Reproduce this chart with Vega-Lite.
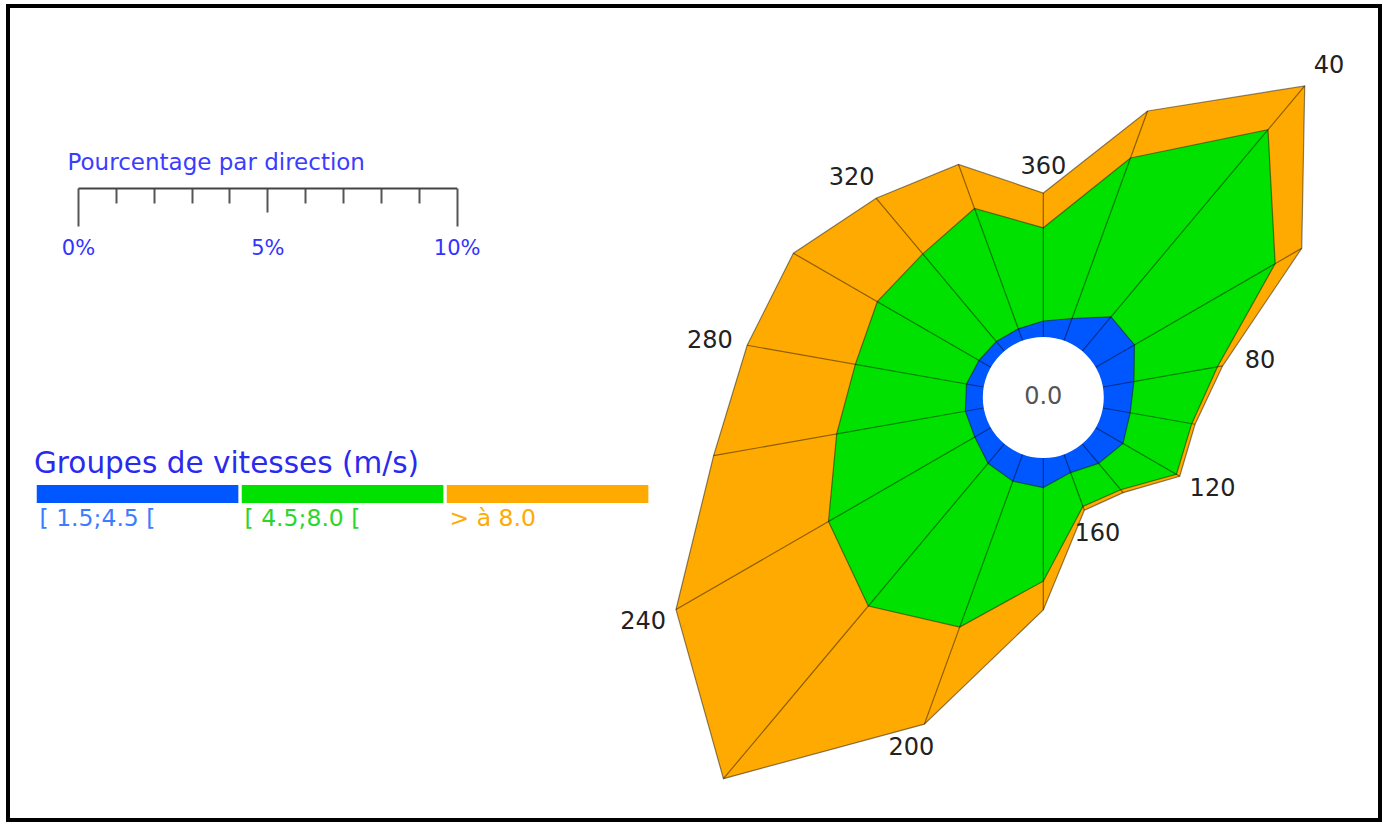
{
  "$schema": "https://vega.github.io/schema/vega-lite/v6.json",
  "width": 1372,
  "height": 814,
  "autosize": {"type": "none"},
  "padding": {"left": 8, "top": 6, "right": 6, "bottom": 2},
  "background": "white",
  "config": {"view": {"stroke": "#000", "strokeWidth": 4}, "font": "DejaVu Sans"},
  "datasets": {
    "rose": [
      {"direction": 0, "vitesse": "calme", "vmin": 0, "pourcentage": 0.0},
      {"direction": 20, "vitesse": "[ 1.5;4.5 [", "vmin": 1.5, "pourcentage": 0.62},
      {"direction": 20, "vitesse": "[ 4.5;8.0 [", "vmin": 4.5, "pourcentage": 4.51},
      {"direction": 20, "vitesse": "> à 8.0", "vmin": 8, "pourcentage": 1.32},
      {"direction": 40, "vitesse": "[ 1.5;4.5 [", "vmin": 1.5, "pourcentage": 1.18},
      {"direction": 40, "vitesse": "[ 4.5;8.0 [", "vmin": 4.5, "pourcentage": 6.45},
      {"direction": 40, "vitesse": "> à 8.0", "vmin": 8, "pourcentage": 1.51},
      {"direction": 60, "vitesse": "[ 1.5;4.5 [", "vmin": 1.5, "pourcentage": 1.18},
      {"direction": 60, "vitesse": "[ 4.5;8.0 [", "vmin": 4.5, "pourcentage": 4.29},
      {"direction": 60, "vitesse": "> à 8.0", "vmin": 8, "pourcentage": 0.81},
      {"direction": 80, "vitesse": "[ 1.5;4.5 [", "vmin": 1.5, "pourcentage": 0.83},
      {"direction": 80, "vitesse": "[ 4.5;8.0 [", "vmin": 4.5, "pourcentage": 2.24},
      {"direction": 80, "vitesse": "> à 8.0", "vmin": 8, "pourcentage": 0.14},
      {"direction": 100, "vitesse": "[ 1.5;4.5 [", "vmin": 1.5, "pourcentage": 0.73},
      {"direction": 100, "vitesse": "[ 4.5;8.0 [", "vmin": 4.5, "pourcentage": 1.65},
      {"direction": 100, "vitesse": "> à 8.0", "vmin": 8, "pourcentage": 0.09},
      {"direction": 120, "vitesse": "[ 1.5;4.5 [", "vmin": 1.5, "pourcentage": 0.83},
      {"direction": 120, "vitesse": "[ 4.5;8.0 [", "vmin": 4.5, "pourcentage": 1.63},
      {"direction": 120, "vitesse": "> à 8.0", "vmin": 8, "pourcentage": 0.10},
      {"direction": 140, "vitesse": "[ 1.5;4.5 [", "vmin": 1.5, "pourcentage": 0.67},
      {"direction": 140, "vitesse": "[ 4.5;8.0 [", "vmin": 4.5, "pourcentage": 0.91},
      {"direction": 140, "vitesse": "> à 8.0", "vmin": 8, "pourcentage": 0.10},
      {"direction": 160, "vitesse": "[ 1.5;4.5 [", "vmin": 1.5, "pourcentage": 0.51},
      {"direction": 160, "vitesse": "[ 4.5;8.0 [", "vmin": 4.5, "pourcentage": 0.95},
      {"direction": 160, "vitesse": "> à 8.0", "vmin": 8, "pourcentage": 0.11},
      {"direction": 180, "vitesse": "[ 1.5;4.5 [", "vmin": 1.5, "pourcentage": 0.78},
      {"direction": 180, "vitesse": "[ 4.5;8.0 [", "vmin": 4.5, "pourcentage": 2.47},
      {"direction": 180, "vitesse": "> à 8.0", "vmin": 8, "pourcentage": 0.76},
      {"direction": 200, "vitesse": "[ 1.5;4.5 [", "vmin": 1.5, "pourcentage": 0.75},
      {"direction": 200, "vitesse": "[ 4.5;8.0 [", "vmin": 4.5, "pourcentage": 4.10},
      {"direction": 200, "vitesse": "> à 8.0", "vmin": 8, "pourcentage": 2.73},
      {"direction": 220, "vitesse": "[ 1.5;4.5 [", "vmin": 1.5, "pourcentage": 0.67},
      {"direction": 220, "vitesse": "[ 4.5;8.0 [", "vmin": 4.5, "pourcentage": 4.92},
      {"direction": 220, "vitesse": "> à 8.0", "vmin": 8, "pourcentage": 5.95},
      {"direction": 240, "vitesse": "[ 1.5;4.5 [", "vmin": 1.5, "pourcentage": 0.49},
      {"direction": 240, "vitesse": "[ 4.5;8.0 [", "vmin": 4.5, "pourcentage": 4.46},
      {"direction": 240, "vitesse": "> à 8.0", "vmin": 8, "pourcentage": 4.65},
      {"direction": 260, "vitesse": "[ 1.5;4.5 [", "vmin": 1.5, "pourcentage": 0.49},
      {"direction": 260, "vitesse": "[ 4.5;8.0 [", "vmin": 4.5, "pourcentage": 3.45},
      {"direction": 260, "vitesse": "> à 8.0", "vmin": 8, "pourcentage": 3.30},
      {"direction": 280, "vitesse": "[ 1.5;4.5 [", "vmin": 1.5, "pourcentage": 0.46},
      {"direction": 280, "vitesse": "[ 4.5;8.0 [", "vmin": 4.5, "pourcentage": 2.98},
      {"direction": 280, "vitesse": "> à 8.0", "vmin": 8, "pourcentage": 2.90},
      {"direction": 300, "vitesse": "[ 1.5;4.5 [", "vmin": 1.5, "pourcentage": 0.36},
      {"direction": 300, "vitesse": "[ 4.5;8.0 [", "vmin": 4.5, "pourcentage": 3.10},
      {"direction": 300, "vitesse": "> à 8.0", "vmin": 8, "pourcentage": 2.56},
      {"direction": 320, "vitesse": "[ 1.5;4.5 [", "vmin": 1.5, "pourcentage": 0.33},
      {"direction": 320, "vitesse": "[ 4.5;8.0 [", "vmin": 4.5, "pourcentage": 3.02},
      {"direction": 320, "vitesse": "> à 8.0", "vmin": 8, "pourcentage": 1.92},
      {"direction": 340, "vitesse": "[ 1.5;4.5 [", "vmin": 1.5, "pourcentage": 0.33},
      {"direction": 340, "vitesse": "[ 4.5;8.0 [", "vmin": 4.5, "pourcentage": 3.38},
      {"direction": 340, "vitesse": "> à 8.0", "vmin": 8, "pourcentage": 1.24},
      {"direction": 360, "vitesse": "[ 1.5;4.5 [", "vmin": 1.5, "pourcentage": 0.42},
      {"direction": 360, "vitesse": "[ 4.5;8.0 [", "vmin": 4.5, "pourcentage": 2.46},
      {"direction": 360, "vitesse": "> à 8.0", "vmin": 8, "pourcentage": 0.92}
    ],
    "echelle": [{"pourcentage": 0}, {"pourcentage": 10}]
  },
  "layer": [
    {
      "data": {"name": "rose"},
      "transform": [
        {"window": [{"op": "sum", "field": "pourcentage", "as": "cumul"}], "groupby": ["direction"], "sort": [{"field": "vmin", "order": "ascending"}], "frame": [null, 0]},
        {"calculate": "datum.vmin == 0 ? 0 : 1.6 + datum.cumul", "as": "rayon"},
        {"calculate": "datum.rayon * sin(datum.direction * PI / 180)", "as": "px"},
        {"calculate": "datum.rayon * cos(datum.direction * PI / 180)", "as": "py"}
      ],
      "encoding": {
        "x": {"field": "px", "type": "quantitative", "scale": {"domain": [-27.338, 8.891], "nice": false, "zero": false}, "axis": null},
        "y": {"field": "py", "type": "quantitative", "scale": {"domain": [-11.157, 10.338], "nice": false, "zero": false}, "axis": null}
      },
      "layer": [
        {
          "transform": [{"filter": "datum.vmin == 8"}],
          "mark": {"type": "line", "interpolate": "linear-closed", "stroke": "#000", "strokeOpacity": 0.45, "strokeWidth": 1.2},
          "encoding": {
            "order": {"field": "direction", "type": "quantitative"},
            "fill": {
              "field": "vitesse", "type": "nominal",
              "scale": {"domain": ["[ 1.5;4.5 [", "[ 4.5;8.0 [", "> à 8.0"], "range": ["#0057ff", "#00e100", "#ffaa00"]},
              "legend": {
                "title": "Groupes de vitesses (m/s)",
                "orient": "none", "legendX": 26, "legendY": 444, "direction": "horizontal",
                "titleFont": "DejaVu Sans", "titleFontSize": 29.5, "titleFontWeight": "normal", "titleColor": "#2a2aef", "titlePadding": 15, "titleLimit": 600,
                "symbolType": "M-1,-2.4H21.4V-0.4H-1Z", "symbolSize": 324, "symbolStrokeWidth": 0,
                "labelFont": "DejaVu Sans", "labelFontSize": 23.5, "labelOffset": -18, "labelBaseline": "top", "labelLimit": 220,
                "labelColor": {"expr": "datum.value == '[ 1.5;4.5 [' ? '#3c7dff' : (datum.value == '[ 4.5;8.0 [' ? '#2bd62b' : '#ffaa00')"},
                "columnPadding": -6, "padding": 0, "offset": 0,
                "encode": {
                  "symbols": {"update": {"fill": {"scale": "fill", "field": "value"}, "fillOpacity": {"value": 1}, "opacity": {"value": 1}, "strokeWidth": {"value": 0}}}
                }
              }
            }
          }
        },
        {
          "transform": [{"filter": "datum.vmin == 4.5"}],
          "mark": {"type": "line", "interpolate": "linear-closed", "stroke": "#000", "strokeOpacity": 0.45, "strokeWidth": 1.2},
          "encoding": {
            "order": {"field": "direction", "type": "quantitative"},
            "fill": {"field": "vitesse", "type": "nominal"}
          }
        },
        {
          "transform": [{"filter": "datum.vmin == 1.5"}],
          "mark": {"type": "line", "interpolate": "linear-closed", "stroke": "#000", "strokeOpacity": 0.45, "strokeWidth": 1.2},
          "encoding": {
            "order": {"field": "direction", "type": "quantitative"},
            "fill": {"field": "vitesse", "type": "nominal"}
          }
        },
        {
          "transform": [
            {"filter": "datum.vmin == 8"},
            {"calculate": "1.6 * sin(datum.direction * PI / 180)", "as": "px0"},
            {"calculate": "1.6 * cos(datum.direction * PI / 180)", "as": "py0"}
          ],
          "mark": {"type": "rule", "stroke": "#000", "strokeOpacity": 0.45, "strokeWidth": 1.2},
          "encoding": {"x2": {"field": "px0"}, "y2": {"field": "py0"}}
        },
        {
          "transform": [{"filter": "datum.vmin == 0"}],
          "mark": {"type": "point", "shape": "circle", "filled": true, "fill": "white", "opacity": 1, "size": 14641, "strokeWidth": 0}
        },
        {
          "transform": [{"filter": "datum.vmin == 0"}],
          "mark": {"type": "text", "font": "DejaVu Sans", "fontSize": 24, "color": "#555555", "align": "center", "baseline": "middle"},
          "encoding": {"text": {"field": "pourcentage", "type": "quantitative", "format": ".1f"}}
        },
        {
          "transform": [
            {"filter": "datum.vmin == 8 && datum.direction % 40 == 0"},
            {"calculate": "(datum.rayon + 1.0) * sin(datum.direction * PI / 180)", "as": "px"},
            {"calculate": "(datum.rayon + 0.68) * cos(datum.direction * PI / 180)", "as": "py"}
          ],
          "mark": {"type": "text", "font": "DejaVu Sans", "fontSize": 24, "color": "#222222", "align": "center", "baseline": "middle"},
          "encoding": {"text": {"field": "direction", "type": "quantitative", "format": "d"}}
        }
      ]
    },
    {
      "data": {"name": "echelle"},
      "mark": {"type": "point", "opacity": 0, "size": 0},
      "encoding": {
        "x": {
          "field": "pourcentage", "type": "quantitative",
          "scale": {"domain": [0, 10], "range": [70, 448.7], "nice": false, "zero": false},
          "axis": {
            "orient": "bottom", "offset": -632,
            "values": [0, 1, 2, 3, 4, 5, 6, 7, 8, 9, 10],
            "labelExpr": "datum.value % 5 == 0 ? datum.value + '%' : ''",
            "tickSize": {"condition": [{"test": "datum.value == 0 || datum.value == 10", "value": 38}, {"test": "datum.value == 5", "value": 24}], "value": 15},
            "labelPadding": {"condition": [{"test": "datum.value == 0 || datum.value == 10", "value": 11}, {"test": "datum.value == 5", "value": 25}], "value": 20},
            "tickWidth": 2, "tickColor": "#555555", "domainColor": "#444444", "domainWidth": 2,
            "labelFont": "DejaVu Sans", "labelFontSize": 21, "labelColor": "#3333ff", "labelFlush": false, "labelOverlap": false,
            "grid": false,
            "title": "Pourcentage par direction", "titleFont": "DejaVu Sans", "titleFontSize": 23, "titleFontWeight": "normal", "titleColor": "#3c3cff",
            "titleAnchor": "start", "titleAlign": "left", "titleX": 59, "titleY": -19, "titleBaseline": "alphabetic"
          }
        }
      }
    }
  ],
  "resolve": {"scale": {"x": "independent", "y": "independent"}}
}
